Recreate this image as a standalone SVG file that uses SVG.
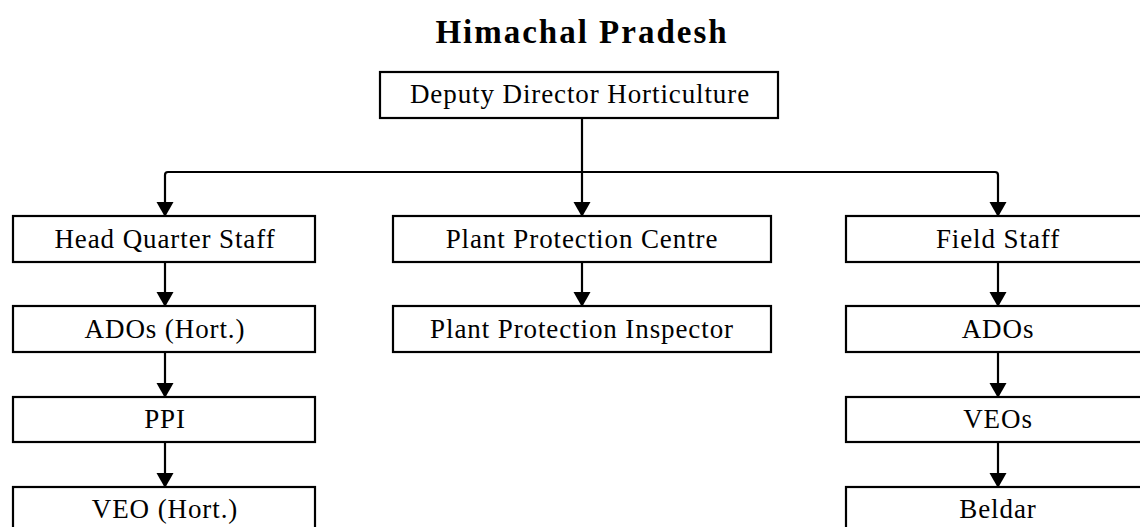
<svg xmlns="http://www.w3.org/2000/svg" width="1140" height="527" viewBox="0 0 1140 527">
<style>
.box{fill:#fff;stroke:#000;stroke-width:2.2}
.t{font-family:"Liberation Serif","Times New Roman",serif;font-size:27px;letter-spacing:0.9px;text-anchor:middle;fill:#000}
.title{font-family:"Liberation Serif","Times New Roman",serif;font-size:33px;font-weight:bold;letter-spacing:2px;text-anchor:middle;fill:#000}
.c{fill:none;stroke:#000;stroke-width:2.2}
</style>
<defs>
<marker id="arr" markerUnits="userSpaceOnUse" markerWidth="17" markerHeight="18" refX="14" refY="8.5" orient="auto" viewBox="0 0 17 17">
<path d="M0,0 L15,8.5 L0,17 z" fill="#000"/>
</marker>
</defs>
<rect width="1140" height="527" fill="#fff"/>
<text class="title" x="582" y="43">Himachal Pradesh</text>
<g id="connectors">
<path class="c" d="M582,118 V172"/>
<path class="c" d="M582,172 H168 Q165,172 165,175 V216" marker-end="url(#arr)"/>
<path class="c" d="M582,172 V216" marker-end="url(#arr)"/>
<path class="c" d="M582,172 H995 Q998,172 998,175 V216" marker-end="url(#arr)"/>
<path class="c" d="M165,262 V306" marker-end="url(#arr)"/>
<path class="c" d="M165,352 V397" marker-end="url(#arr)"/>
<path class="c" d="M165,442 V487" marker-end="url(#arr)"/>
<path class="c" d="M582,262 V306" marker-end="url(#arr)"/>
<path class="c" d="M998,262 V306" marker-end="url(#arr)"/>
<path class="c" d="M998,352 V397" marker-end="url(#arr)"/>
<path class="c" d="M998,442 V487" marker-end="url(#arr)"/>
</g>
<g id="deputy"><rect class="box" x="380" y="72" width="398" height="46"/><text class="t" x="580" y="103">Deputy Director Horticulture</text></g>
<g id="hq"><rect class="box" x="13" y="216" width="302" height="46"/><text class="t" x="165" y="248">Head Quarter Staff</text></g>
<g id="ados-hort"><rect class="box" x="13" y="306" width="302" height="46"/><text class="t" x="165" y="338">ADOs (Hort.)</text></g>
<g id="ppi"><rect class="box" x="13" y="397" width="302" height="45"/><text class="t" x="165" y="428">PPI</text></g>
<g id="veo-hort"><rect class="box" x="13" y="487" width="302" height="50"/><text class="t" x="165" y="518">VEO (Hort.)</text></g>
<g id="ppc"><rect class="box" x="393" y="216" width="378" height="46"/><text class="t" x="582" y="248">Plant Protection Centre</text></g>
<g id="ppinsp"><rect class="box" x="393" y="306" width="378" height="46"/><text class="t" x="582" y="338">Plant Protection Inspector</text></g>
<g id="field"><rect class="box" x="846" y="216" width="310" height="46"/><text class="t" x="998" y="248">Field Staff</text></g>
<g id="ados"><rect class="box" x="846" y="306" width="310" height="46"/><text class="t" x="998" y="338">ADOs</text></g>
<g id="veos"><rect class="box" x="846" y="397" width="310" height="45"/><text class="t" x="998" y="428">VEOs</text></g>
<g id="beldar"><rect class="box" x="846" y="487" width="310" height="50"/><text class="t" x="998" y="518">Beldar</text></g>
</svg>
